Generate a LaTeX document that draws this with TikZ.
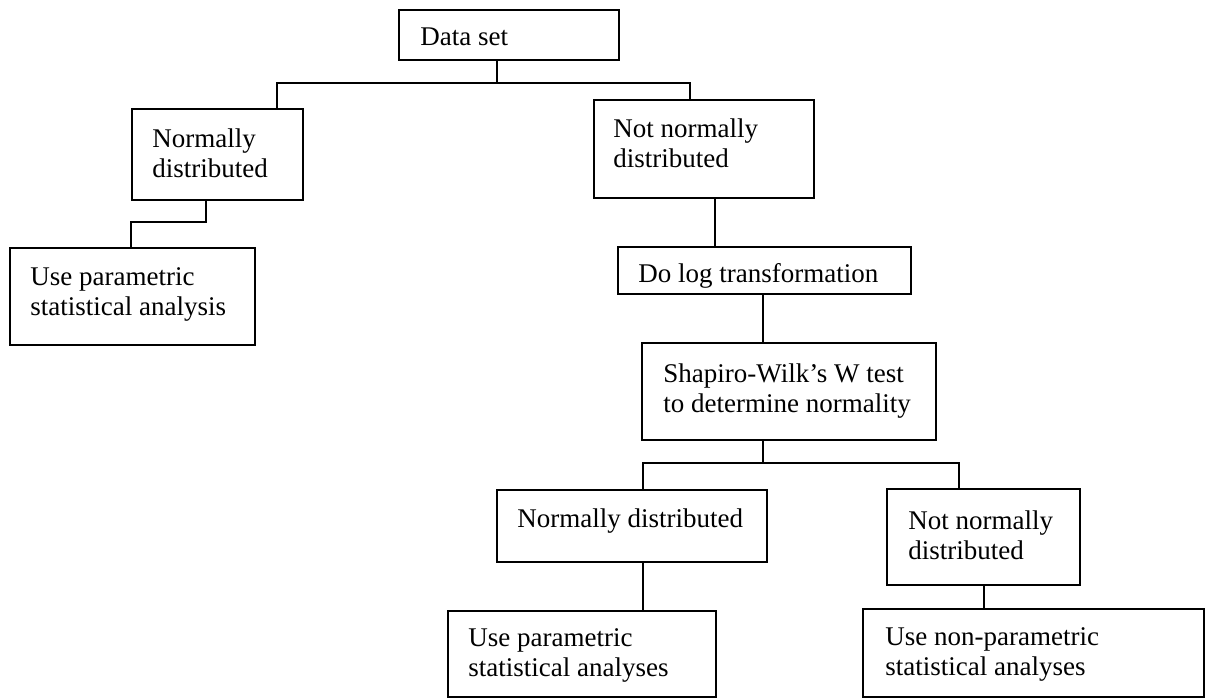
\documentclass[tikz,border=0pt]{standalone}
\usepackage{fontspec}
\setmainfont{Liberation Serif}
\usetikzlibrary{positioning, calc}

\begin{document}
\begin{tikzpicture}[x=0.5pt, y=-0.5pt,
    box/.style={draw, line width=0.9pt, inner sep=0pt, anchor=north west},
    boxtext/.style={anchor=north west, inner sep=0pt, align=left, font=\fontsize{13.5}{15}\selectfont},
    link/.style={line width=0.9pt}]
    \useasboundingbox (0,0) rectangle (1210,698);
    % boxes
    \node[box, minimum width=110pt, minimum height=25pt] (ds) at (398,9) {};
    \node[box, minimum width=85.5pt, minimum height=45.5pt] (nl) at (131,108) {};
    \node[box, minimum width=110pt, minimum height=49pt] (nn) at (593,99) {};
    \node[box, minimum width=122.5pt, minimum height=48.5pt] (up) at (9,247) {};
    \node[box, minimum width=146.5pt, minimum height=23.5pt] (lg) at (617,246) {};
    \node[box, minimum width=147pt, minimum height=48.5pt] (sw) at (641,342) {};
    \node[box, minimum width=135pt, minimum height=36pt] (nb) at (496,489) {};
    \node[box, minimum width=134pt, minimum height=43pt] (ub) at (447,610) {};
    \node[box, minimum width=96.5pt, minimum height=48pt] (rb) at (886,488) {};
    \node[box, minimum width=170.5pt, minimum height=44pt] (np) at (862,608) {};
    % texts
    \node[boxtext] (ds-t) at ([shift={(22,18)}]ds.north west) {Data set};
    \node[boxtext] (nl-t) at ([shift={(21,20)}]nl.north west) {Normally\\distributed};
    \node[boxtext] (nn-t) at ([shift={(20,19)}]nn.north west) {Not normally\\distributed};
    \node[boxtext] (up-t) at ([shift={(21,20)}]up.north west) {Use parametric\\statistical analysis};
    \node[boxtext] (lg-t) at ([shift={(21,17)}]lg.north west) {Do log transformation};
    \node[boxtext] (sw-t) at ([shift={(22,21)}]sw.north west) {Shapiro-Wilk’s W test\\to determine normality};
    \node[boxtext] (nb-t) at ([shift={(21,19)}]nb.north west) {Normally distributed};
    \node[boxtext] (ub-t) at ([shift={(21,18)}]ub.north west) {Use parametric\\statistical analyses};
    \node[boxtext] (rb-t) at ([shift={(22,22)}]rb.north west) {Not normally\\distributed};
    \node[boxtext] (np-t) at ([shift={(23,19)}]np.north west) {Use non-parametric\\statistical analyses};
    % junctions
    \coordinate (ds-j) at (497,83);
    \coordinate (ds-l) at (277,83);
    \coordinate (ds-r) at (690,83);
    \coordinate (nl-j) at (206,222);
    \coordinate (nl-k) at (131,222);
    \coordinate (nn-j) at (715,220);
    \coordinate (lg-j) at (763,318);
    \coordinate (sw-j) at (763,463);
    \coordinate (sw-l) at (643,463);
    \coordinate (sw-r) at (959,463);
    \coordinate (nb-j) at (643,585);
    \coordinate (rb-j) at (984,596);
    % connectors
    \draw[link] (ds-j |- ds.south) -- (ds-j);
    \draw[link] (ds-l |- nl.north) -- (ds-l) -- (ds-r) -- (ds-r |- nn.north);
    \draw[link] (nl-j |- nl.south) -- (nl-j) -- (nl-k) -- (nl-k |- up.north);
    \draw[link] (nn-j |- nn.south) -- (nn-j |- lg.north);
    \draw[link] (lg-j |- lg.south) -- (lg-j |- sw.north);
    \draw[link] (sw-j |- sw.south) -- (sw-j);
    \draw[link] (sw-l |- nb.north) -- (sw-l) -- (sw-r) -- (sw-r |- rb.north);
    \draw[link] (nb-j |- nb.south) -- (nb-j |- ub.north);
    \draw[link] (rb-j |- rb.south) -- (rb-j |- np.north);
\end{tikzpicture}
\end{document}
